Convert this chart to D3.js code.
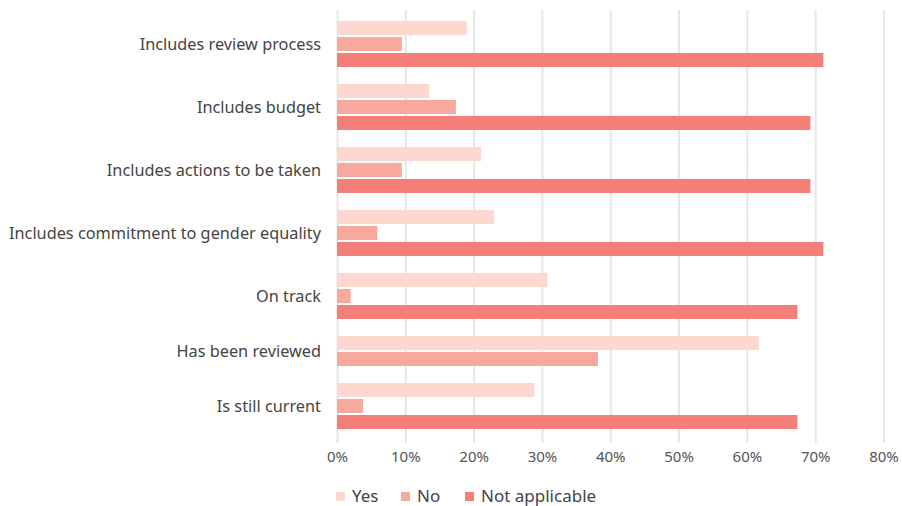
<!DOCTYPE html>
<html>
<head>
<meta charset="utf-8">
<script src="https://cdn.jsdelivr.net/npm/d3@7"></script>
<style>
  body { margin: 0; background: #fff; }
  svg text { font-family: "Noto Sans", "Open Sans", sans-serif; }
</style>
</head>
<body>
<div class="chart"></div>
<script>
// categories, top to bottom
var categories = [
  "Includes review process",
  "Includes budget",
  "Includes actions to be taken",
  "Includes commitment to gender equality",
  "On track",
  "Has been reviewed",
  "Is still current"
];
var seriesNames = ["Yes", "No", "Not applicable"];
var yesVals = [0.19, 0.135, 0.211, 0.23, 0.308, 0.618, 0.289];
var noVals  = [0.095, 0.174, 0.095, 0.059, 0.02, 0.382, 0.038];
var naVals  = [0.712, 0.693, 0.693, 0.712, 0.674, null, 0.674];
var tickVals = [0, 0.1, 0.2, 0.3, 0.4, 0.5, 0.6, 0.7, 0.8];
var colors = ["#fcd8d0", "#f8a99d", "#f37f78"];

var width = 902,
    height = 506,
    slot = 16,        // px per bar slot
    barH = 14,
    groupGap = 15 / 16,
    plotTop = 21;

var svg = d3.select(".chart").append("svg")
    .attr("width", width)
    .attr("height", height);

// each category only keeps slots for the values it has
var groups = [], pos = 0;
categories.forEach(function(c, i) {
  var bars = [yesVals[i], noVals[i], naVals[i]].map(function(v, s) {
    return {series: s, value: v};
  }).filter(function(d) { return d.value != null; });
  groups.push({name: c, start: pos, bars: bars});
  pos += bars.length + groupGap;
});
var totalUnits = pos - groupGap;

var x = d3.scaleLinear().domain([0, 0.8]).range([337, 883.5]);
var y = d3.scaleLinear().domain([0, totalUnits]).range([plotTop, plotTop + totalUnits * slot]);

// grid + ticks
var axis = svg.append("g")
    .attr("transform", "translate(0,443)")
    .call(d3.axisBottom(x).tickValues(tickVals).tickFormat(d3.format(".0%"))
      .tickSize(-433).tickPadding(8));
axis.select(".domain").remove();
axis.selectAll(".tick line").attr("stroke", "#e6e6e6").attr("stroke-width", 2);
axis.selectAll(".tick text")
    .attr("fill", "#555")
    .style("font-size", "15px");

var g = svg.selectAll(".cat").data(groups).enter().append("g").attr("class", "cat");

g.selectAll("rect").data(function(d) {
    return d.bars.map(function(b, j) { return {series: b.series, value: b.value, u: d.start + j}; });
  }).enter().append("rect")
    .attr("x", x(0))
    .attr("y", function(d) { return y(d.u); })
    .attr("height", barH)
    .attr("width", function(d) { return x(d.value) - x(0); })
    .attr("fill", function(d) { return colors[d.series]; });

g.append("text")
    .attr("x", 321)
    .attr("y", function(d) { return y(d.start + (d.bars.length - 2 / slot) / 2); })
    .attr("dy", "0.35em")
    .attr("text-anchor", "end")
    .attr("fill", "#444")
    .style("font-size", "16.3px")
    .text(function(d) { return d.name; });

// legend
var legendX = [336, 401, 465];
var legend = svg.selectAll(".legend").data(seriesNames).enter().append("g")
    .attr("class", "legend")
    .attr("transform", function(d, i) { return "translate(" + legendX[i] + ",492)"; });
legend.append("rect")
    .attr("width", 9).attr("height", 9)
    .attr("fill", function(d, i) { return colors[i]; });
legend.append("text")
    .attr("x", 16).attr("y", 10)
    .attr("fill", "#444")
    .style("font-size", "17px")
    .text(function(d) { return d; });
</script>
</body>
</html>
